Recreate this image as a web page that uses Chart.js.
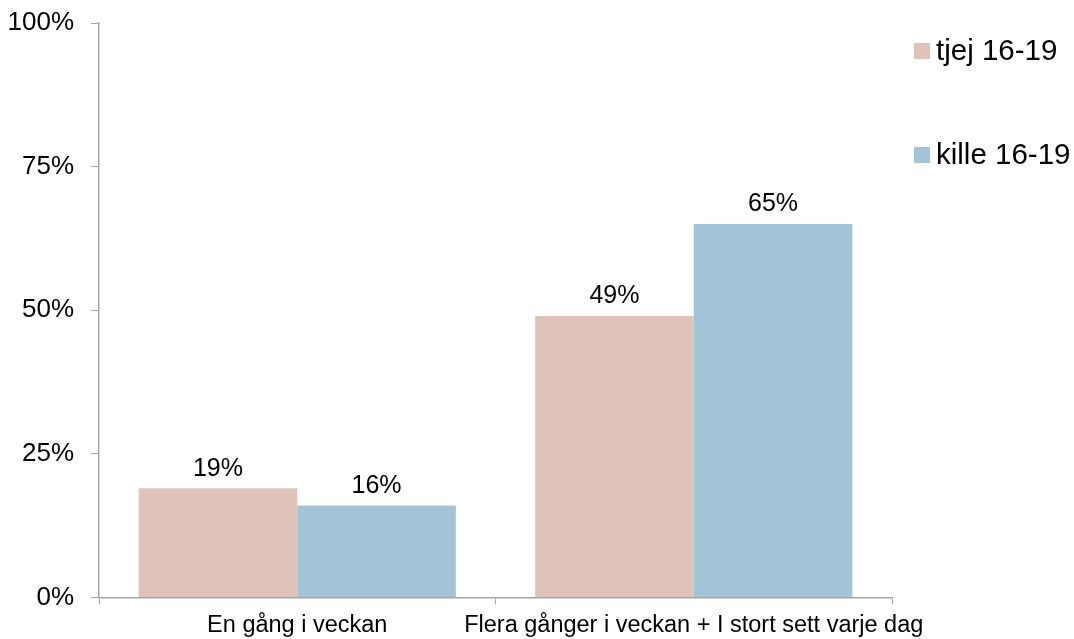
<!DOCTYPE html>
<html>
<head>
<meta charset="utf-8">
<script src="https://cdn.jsdelivr.net/npm/chart.js@4/dist/chart.umd.min.js"></script>
<style>
  html, body { margin: 0; padding: 0; background: #fff; }
  #wrap { width: 1074px; height: 639px; position: relative; }
</style>
</head>
<body>
<div id="wrap"><canvas id="grafico"></canvas></div>
<script>
const kategorier = ['En gång i veckan', 'Flera gånger i veckan + I stort sett varje dag'];
const serier = ['tjej 16-19', 'kille 16-19'];
const tjej = [19, 49];
const kille = [16, 65];
const yTicks = [0, 25, 50, 75, 100];

const fargTjej = '#e0c3b8';
const fargKille = '#a2c4d6';
const axelFarg = '#a6a6a6';
const font = 'Liberation Sans, Arial, sans-serif';

// etiketter ovanför staplarna
const etiketter = {
    id: 'etiketter',
    afterDatasetsDraw(chart) {
        const ctx = chart.ctx;
        ctx.save();
        ctx.font = '25px ' + font;
        ctx.fillStyle = '#000';
        ctx.textAlign = 'center';
        ctx.textBaseline = 'bottom';
        chart.data.datasets.forEach((ds, i) => {
            chart.getDatasetMeta(i).data.forEach((bar, j) => {
                ctx.fillText(ds.data[j] + '%', bar.x, bar.y - 7);
            });
        });
        ctx.restore();
    }
};

// egen legend till höger
const legend = {
    id: 'egenLegend',
    afterDraw(chart) {
        const ctx = chart.ctx;
        const rader = [51, 155];
        ctx.save();
        ctx.font = '29.5px ' + font;
        ctx.textBaseline = 'middle';
        chart.data.datasets.forEach((ds, i) => {
            ctx.fillStyle = ds.backgroundColor;
            ctx.fillRect(914, rader[i] - 8, 16, 16);
            ctx.fillStyle = '#000';
            ctx.fillText(ds.label, 936, rader[i] + 1);
        });
        ctx.restore();
    }
};

const ctx = document.getElementById('grafico').getContext('2d');
new Chart(ctx, {
    type: 'bar',
    data: {
        labels: kategorier,
        datasets: [
            { label: serier[0], data: tjej, backgroundColor: fargTjej },
            { label: serier[1], data: kille, backgroundColor: fargKille }
        ]
    },
    options: {
        responsive: true,
        maintainAspectRatio: false,
        animation: false,
        categoryPercentage: 0.8,
        barPercentage: 1.0,
        layout: { padding: { left: 0, right: 182, top: 23, bottom: 0 } },
        plugins: {
            legend: { display: false },
            tooltip: { enabled: false }
        },
        scales: {
            x: {
                grid: {
                    display: true,
                    drawOnChartArea: false,
                    drawTicks: true,
                    tickLength: 7,
                    color: axelFarg,
                    offset: true
                },
                border: { display: true, color: axelFarg, width: 1.5 },
                ticks: {
                    color: '#000',
                    font: { family: font, size: 23.5 },
                    padding: 7,
                    maxRotation: 0,
                    autoSkip: false
                },
                afterFit(scale) { scale.height = 41.5; }
            },
            y: {
                min: 0,
                max: 100,
                afterBuildTicks(scale) {
                    scale.ticks = yTicks.map(v => ({ value: v }));
                },
                grid: {
                    display: true,
                    drawOnChartArea: false,
                    drawTicks: true,
                    tickLength: 8,
                    color: axelFarg
                },
                border: { display: true, color: axelFarg, width: 1.5 },
                ticks: {
                    color: '#000',
                    font: { family: font, size: 26 },
                    padding: 17,
                    callback: v => v + '%'
                },
                afterFit(scale) {
                    scale.width = 99;
                    scale.paddingTop = 0;
                    scale.paddingBottom = 0;
                }
            }
        }
    },
    plugins: [etiketter, legend]
});
</script>
</body>
</html>
